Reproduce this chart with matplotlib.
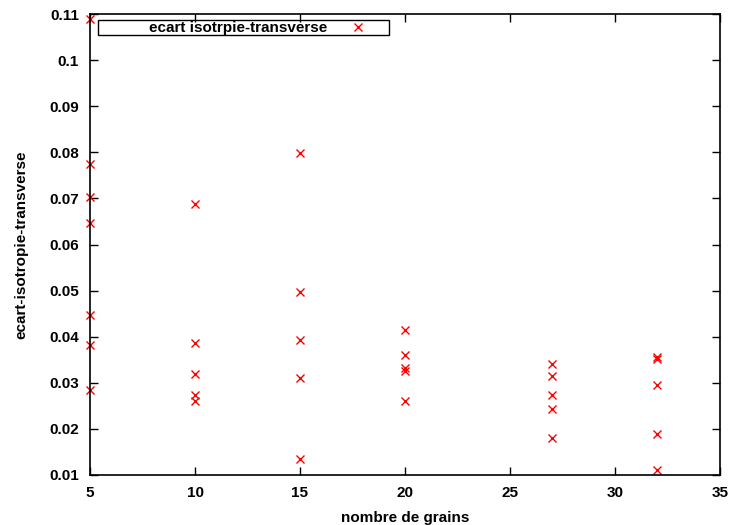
import numpy as np
import matplotlib
matplotlib.use('Agg')
import matplotlib.pyplot as plt
from matplotlib.patches import Rectangle

# nombre de grains et ecart mesure pour chaque echantillon
grains_5 = [0.1089, 0.0775, 0.0702, 0.0646, 0.0446, 0.0383, 0.0285]
grains_10 = [0.0688, 0.0386, 0.0320, 0.0273, 0.0260]
grains_15 = [0.0799, 0.0497, 0.0392, 0.0311, 0.0135]
grains_20 = [0.0415, 0.0360, 0.0333, 0.0326, 0.0260]
grains_27 = [0.0341, 0.0315, 0.0273, 0.0243, 0.0181]
grains_32 = [0.0355, 0.0351, 0.0296, 0.0190, 0.0110]

n_grains = [5, 10, 15, 20, 27, 32]
ecarts = [grains_5, grains_10, grains_15, grains_20, grains_27, grains_32]

x_ticks = [5, 10, 15, 20, 25, 30, 35]
y_ticks = [0.01, 0.02, 0.03, 0.04, 0.05, 0.06, 0.07, 0.08, 0.09, 0.1, 0.11]
y_labels = ['0.01', '0.02', '0.03', '0.04', '0.05', '0.06', '0.07', '0.08', '0.09', '0.1', '0.11']

plt.rcParams['font.family'] = ['Liberation Sans', 'DejaVu Sans']
plt.rcParams['font.weight'] = 'bold'

x = np.concatenate([[n] * len(e) for n, e in zip(n_grains, ecarts)])
y = np.concatenate(ecarts)

W, H = 729, 525
fig = plt.figure(figsize=(W / 100, H / 100), dpi=100)
ax = fig.add_axes([90 / W, 50 / H, 630 / W, 461 / H])
ax.plot(x, y, 'x', color='red', markersize=6, markeredgewidth=1.0,
        label='ecart isotrpie-transverse', clip_on=False)

ax.set_xlim(5, 35)
ax.set_ylim(0.01, 0.11)
ax.set_xticks(x_ticks)
ax.set_yticks(y_ticks)
ax.set_yticklabels(y_labels)
ax.tick_params(direction='in', top=True, right=True, length=6, width=1,
               labelsize=11, pad=8)
for lab in ax.get_xticklabels() + ax.get_yticklabels():
    lab.set_fontweight('bold')
for s in ax.spines.values():
    s.set_linewidth(1.2)

ax.set_xlabel('nombre de grains', fontsize=11, fontweight='bold', labelpad=8)
ax.set_ylabel('ecart-isotropie-transverse', fontsize=11, fontweight='bold', labelpad=15)

# legende facon gnuplot : texte aligne a droite, symbole apres, cadre large
leg = ax.legend(loc='upper right', bbox_to_anchor=((373 - 90) / 630, 1 - 7 / 461),
                markerfirst=False, frameon=False, borderpad=0, borderaxespad=0,
                handlelength=2.0, handletextpad=0.97, prop={'size': 11, 'weight': 'bold'})
ax.add_patch(Rectangle(((98 - 90) / 630, 1 - 21 / 461), 291 / 630, 15 / 461,
                       transform=ax.transAxes, fill=False, edgecolor='black',
                       linewidth=1.0, clip_on=False, zorder=1))

fig.savefig('out.png', dpi=100)
